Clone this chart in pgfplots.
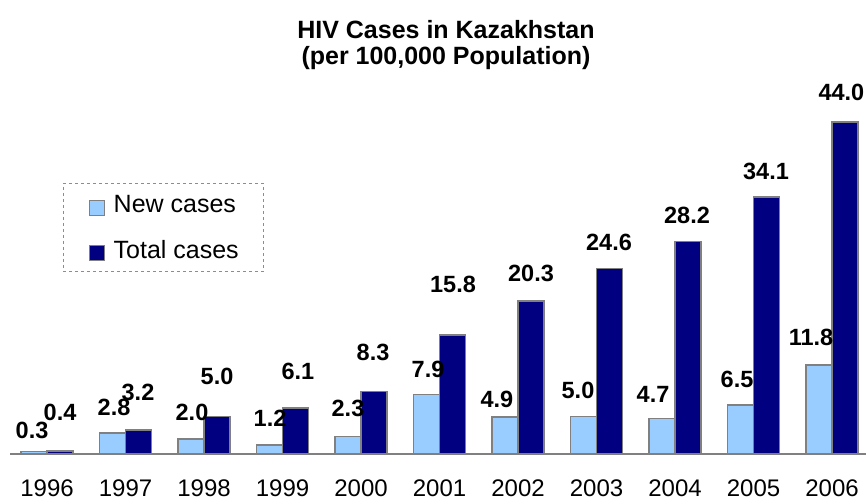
\documentclass[border=0pt]{standalone}
\usepackage{pgfplots}
\pgfplotsset{compat=1.18}
\usepackage{pgfplotstable}
\usepackage{fontspec}
\setmainfont{Liberation Sans}
\definecolor{lightbar}{HTML}{99CCFF}
\definecolor{darkbar}{HTML}{000080}
\definecolor{edge}{HTML}{808080}
\pgfplotsset{sqlegend/.style={legend image code/.code={\path (0pt,10.5pt); \draw[##1, solid, line width=1.2pt] (0pt,-10.5pt) rectangle (15pt,4.5pt);}}}

\pgfplotstableread{
x new total
0 0.3 0.4
1 2.8 3.2
2 2.0 5.0
3 1.2 6.1
4 2.3 8.3
5 7.9 15.8
6 4.9 20.3
7 5.0 24.6
8 4.7 28.2
9 6.5 34.1
10 11.8 44.0
}\data

\pgfplotstableread{
x y label
-0.191 3.18 0.3
0.166 5.57 0.4
0.854 6.23 2.8
1.159 8.22 3.2
1.847 5.57 2.0
2.166 10.34 5.0
2.841 4.77 1.2
3.197 11.01 6.1
3.834 6.10 2.3
4.153 13.53 8.3
4.854 11.27 7.9
5.172 22.55 15.8
5.732 7.29 4.9
6.166 24.01 20.3
6.764 8.49 5.0
7.159 28.12 24.6
7.720 7.96 4.7
8.153 31.70 28.2
8.790 9.95 6.5
9.159 37.53 34.1
9.732 15.52 11.8
10.120 48.01 44.0
}\labels

\pgfplotstableread{
x y
-0.471 0
10.433 0
}\baseline

\begin{document}
\begin{tikzpicture}
\begin{axis}[
  width=866pt, height=501pt, scale only axis,
  xmin=-0.599, xmax=10.433, ymin=-6.23, ymax=60.21,
  axis x line=middle, axis y line=none,
  axis line style={draw=none,-},
  xtick={0,...,10},
  xticklabels={1996,1997,1998,1999,2000,2001,2002,2003,2004,2005,2006},
  major tick length=0pt,
  xticklabel style={font=\fontsize{24}{24}\selectfont, anchor=base, inner sep=0pt, yshift=-42.5pt},
  ytick=\empty,
  clip=false,
  title={HIV Cases in Kazakhstan\\(per 100,000 Population)},
  every axis title/.style={at={(0.515,0.9601)}, anchor=north, align=center,
     font=\bfseries\fontsize{25}{26}\selectfont, inner sep=0pt},
  legend style={at={(0.0727,0.6347)}, anchor=north west, draw=edge!90, dashed,
     line width=0.8pt, fill=white, inner xsep=25pt, inner ysep=10pt,
     row sep=23pt, column sep=9pt, nodes={inner sep=0pt},
     cells={anchor=west}, font=\fontsize{25}{25}\selectfont},
]
\addplot[ybar, bar width=0.331, bar shift=-0.1655, fill=lightbar, draw=edge, line width=1.5pt, sqlegend]
  table[x=x, y=new] {\data};
\addlegendentry{New cases}
\addplot[ybar, bar width=0.331, bar shift=0.1655, fill=darkbar, draw=edge, line width=1.5pt, sqlegend]
  table[x=x, y=total] {\data};
\addlegendentry{Total cases}
\addplot[forget plot, draw=edge, line width=1.5pt] table[x=x, y=y] {\baseline};
\addplot[forget plot, draw=none, nodes near coords, point meta=explicit symbolic,
  nodes near coords style={anchor=center, inner sep=0pt, text=black,
    font=\bfseries\fontsize{23.5}{23.5}\selectfont}]
  table[x=x, y=y, meta=label] {\labels};
\end{axis}
\pgfresetboundingbox
\useasboundingbox (current axis.south west) rectangle (current axis.north east);
\end{tikzpicture}
\end{document}
